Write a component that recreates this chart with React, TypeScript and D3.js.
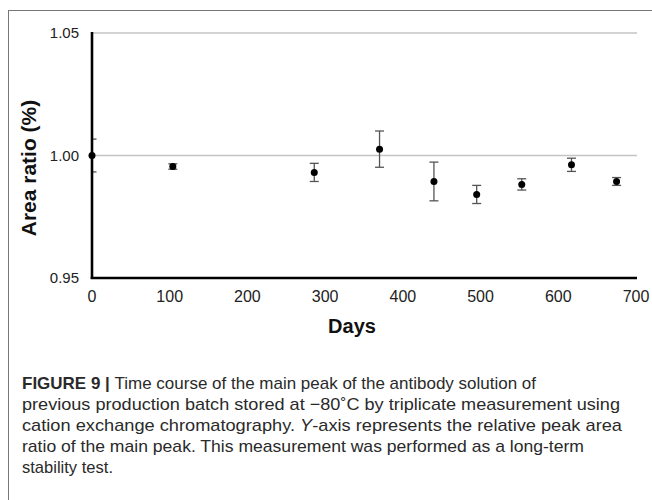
import React from "react";
import * as d3 from "d3";

const days = [0, 104, 286, 370, 440, 495, 553, 617, 675];
const values = [1.0, 0.9955, 0.9931, 1.0026, 0.9894, 0.9841, 0.9882, 0.9962, 0.9894];
const errors = [0.0067, 0.0011, 0.0037, 0.0074, 0.0079, 0.0037, 0.0023, 0.0027, 0.0016];
const xTicks = [0, 100, 200, 300, 400, 500, 600, 700];
const yTicks = [0.95, 1.0, 1.05];
const gridValues = [1.0, 1.05];

const captionLines = [
  { bold: "FIGURE 9 | ", text: "Time course of the main peak of the antibody solution of", w: 514 },
  { bold: "", text: "previous production batch stored at \u221280\u02daC by triplicate measurement using", w: 598 },
  { bold: "", text: "cation exchange chromatography. ", italic: "Y", rest: "-axis represents the relative peak area", w: 600 },
  { bold: "", text: "ratio of the main peak. This measurement was performed as a long-term", w: 562 },
  { bold: "", text: "stability test.", w: 91 },
];

export default function App() {
  const W = 652, H = 500;
  const left = 92, right = 636, top = 33, bottom = 278;
  const x = d3.scaleLinear().domain([0, 700]).range([left, right]);
  const y = d3.scaleLinear().domain([0.95, 1.05]).range([bottom, top]);
  const font = "'Liberation Sans', Arial, sans-serif";
  return (
    <svg width={W} height={H} style={{ position: "absolute", left: 0, top: 0, background: "#fff" }} fontFamily={font}>
      <defs>
        <clipPath id="plotclip">
          <rect x={left} y={0} width={W - left} height={H} />
        </clipPath>
      </defs>
      <rect x={8.5} y={10.5} width={700} height={600} fill="none" stroke="#777" strokeWidth={1} />
      {gridValues.map((v) => (
        <line key={v} x1={left} x2={right + 1} y1={y(v)} y2={y(v)} stroke="#c4c4c4" strokeWidth={1.6} />
      ))}
      {yTicks.map((v) => (
        <text key={v} x={79} y={y(v)} dy="0.36em" textAnchor="end" fontSize={15} fill="#222">
          {d3.format(".2f")(v)}
        </text>
      ))}
      {xTicks.map((v) => (
        <text key={v} x={x(v)} y={302} textAnchor="middle" fontSize={16} fill="#222">
          {v}
        </text>
      ))}
      <g clipPath="url(#plotclip)">
        {days.map((d, i) => {
          const cx = x(d);
          const y1 = y(values[i] + errors[i]);
          const y2 = y(values[i] - errors[i]);
          return (
            <g key={i} stroke="#555" strokeWidth={1.3}>
              <line x1={cx} x2={cx} y1={y1} y2={y2} />
              <line x1={cx - 4.5} x2={cx + 4.5} y1={y1} y2={y1} />
              <line x1={cx - 4.5} x2={cx + 4.5} y1={y2} y2={y2} />
            </g>
          );
        })}
      </g>
      <line x1={left} x2={left} y1={top - 1} y2={bottom + 1} stroke="#000" strokeWidth={2.6} />
      <line x1={left - 1.3} x2={right + 1} y1={bottom} y2={bottom} stroke="#000" strokeWidth={2.6} />
      {days.map((d, i) => (
        <circle key={i} cx={x(d)} cy={y(values[i])} r={3.5} fill="#000" />
      ))}
      <text x={352} y={333} textAnchor="middle" fontSize={20} fontWeight="bold" fill="#111">Days</text>
      <text transform="translate(36,168) rotate(-90)" textAnchor="middle" fontSize={21} fontWeight="bold" fill="#111">
        Area ratio (%)
      </text>
      {captionLines.map((l, i) => (
        <text key={i} x={22} y={389 + i * 21} fontSize={17} fill="#2a2a2a" textLength={l.w} lengthAdjust="spacingAndGlyphs">
          {l.bold ? <tspan fontWeight="bold">{l.bold}</tspan> : null}
          <tspan>{l.text}</tspan>
          {l.italic ? <tspan fontStyle="italic">{l.italic}</tspan> : null}
          {l.rest ? <tspan>{l.rest}</tspan> : null}
        </text>
      ))}
    </svg>
  );
}
